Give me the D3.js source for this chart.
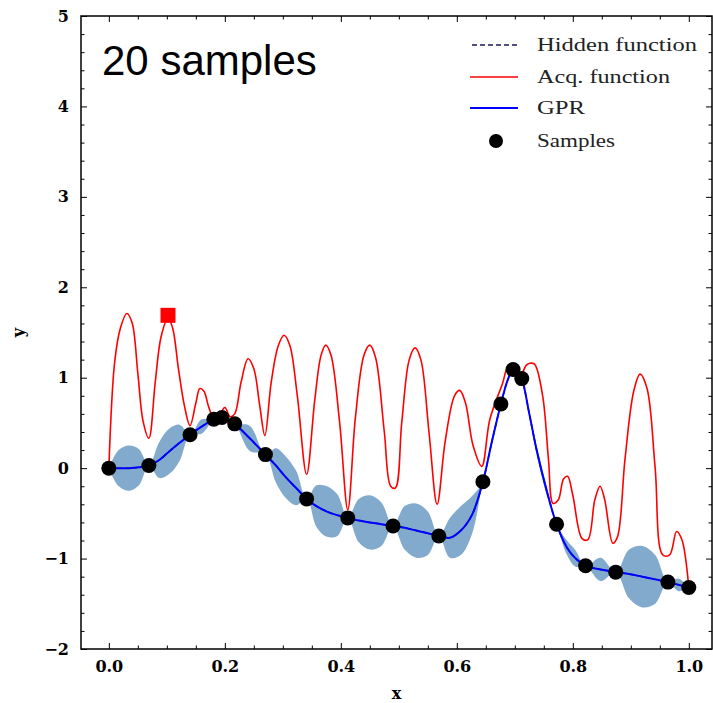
<!DOCTYPE html>
<html>
<head>
<meta charset="utf-8">
<script src="https://cdn.jsdelivr.net/npm/d3@7"></script>
<style>
  body { margin: 0; background: #fff; }
  .tick text { font-family: "DejaVu Serif", serif; font-weight: bold; font-size: 16px; }
  .tick line { stroke: #000; stroke-width: 1; }
</style>
</head>
<body>
<div id="chart"></div>
<script>
// samples taken so far
const sampleX = [0.000, 0.069, 0.140, 0.181, 0.195, 0.217, 0.270, 0.341, 0.412, 0.490,
                 0.569, 0.645, 0.676, 0.697, 0.712, 0.772, 0.822, 0.874, 0.964, 1.000];
const sampleY = [0.00, 0.03, 0.37, 0.54, 0.56, 0.49, 0.15, -0.34, -0.55, -0.64,
                 -0.75, -0.15, 0.71, 1.09, 0.99, -0.62, -1.08, -1.15, -1.26, -1.32];

// GPR mean and std on a grid
const gprX = [0.000, 0.017, 0.035, 0.052, 0.069, 0.087, 0.105, 0.122, 0.140, 0.160,
              0.181, 0.188, 0.195, 0.206, 0.217, 0.243, 0.270, 0.288, 0.305, 0.323,
              0.341, 0.358, 0.376, 0.394, 0.412, 0.431, 0.450, 0.470, 0.490, 0.510,
              0.530, 0.550, 0.569, 0.588, 0.607, 0.626, 0.645, 0.660, 0.676, 0.688,
              0.697, 0.705, 0.712, 0.725, 0.738, 0.755, 0.772, 0.790, 0.805, 0.822,
              0.848, 0.874, 0.897, 0.920, 0.942, 0.964, 0.982, 1.000];
const gprMean = [0.00, 0.00, 0.00, 0.01, 0.03, 0.09, 0.19, 0.28, 0.37, 0.46,
                 0.54, 0.555, 0.56, 0.53, 0.49, 0.33, 0.15, 0.03, -0.10, -0.22,
                 -0.34, -0.42, -0.48, -0.52, -0.55, -0.58, -0.60, -0.62, -0.64, -0.66,
                 -0.69, -0.72, -0.75, -0.77, -0.69, -0.52, -0.15, 0.28, 0.71, 0.98,
                 1.09, 1.06, 0.99, 0.60, 0.19, -0.25, -0.62, -0.88, -1.00, -1.08,
                 -1.12, -1.15, -1.17, -1.20, -1.23, -1.26, -1.29, -1.32];
const gprStd = [0, 0.20, 0.25, 0.20, 0, 0.20, 0.25, 0.20, 0, 0.08,
                0, 0.01, 0, 0.03, 0, 0.14, 0, 0.19, 0.23, 0.19,
                0, 0.23, 0.28, 0.23, 0, 0.24, 0.30, 0.24, 0, 0.24,
                0.30, 0.24, 0, 0.22, 0.27, 0.21, 0, 0.04, 0, 0.01,
                0, 0.01, 0, 0.03, 0.05, 0.05, 0, 0.08, 0.09, 0,
                0.13, 0, 0.27, 0.34, 0.27, 0, 0.07, 0];

// acquisition function
const acqX = [0.000, 0.010, 0.020, 0.031, 0.040, 0.050, 0.059, 0.069, 0.080, 0.090,
              0.102, 0.110, 0.120, 0.130, 0.140, 0.150, 0.157, 0.164, 0.172, 0.181,
              0.190, 0.200, 0.209, 0.217, 0.228, 0.240, 0.250, 0.260, 0.269, 0.280,
              0.292, 0.302, 0.312, 0.325, 0.341, 0.355, 0.366, 0.374, 0.383, 0.398,
              0.412, 0.425, 0.440, 0.450, 0.460, 0.475, 0.486, 0.494, 0.505, 0.518,
              0.528, 0.538, 0.552, 0.566, 0.580, 0.596, 0.605, 0.615, 0.628, 0.643,
              0.657, 0.679, 0.688, 0.699, 0.709, 0.720, 0.726, 0.734, 0.748, 0.758,
              0.766, 0.775, 0.784, 0.791, 0.800, 0.816, 0.826, 0.838, 0.847, 0.855,
              0.869, 0.877, 0.890, 0.905, 0.916, 0.928, 0.942, 0.955, 0.967, 0.979,
              0.988, 1.000];
const acqY = [0.00, 1.17, 1.55, 1.71, 1.61, 1.05, 0.52, 0.33, 0.95, 1.45,
              1.66, 1.55, 1.10, 0.70, 0.47, 0.72, 0.88, 0.85, 0.68, 0.55,
              0.58, 0.67, 0.57, 0.60, 0.95, 1.21, 1.10, 0.70, 0.36, 0.95,
              1.35, 1.47, 1.36, 0.80, -0.07, 0.75, 1.25, 1.36, 1.25, 0.50,
              -0.46, 0.55, 1.25, 1.36, 1.22, 0.40, -0.20, -0.22, 0.50, 1.20,
              1.33, 1.20, 0.40, -0.40, 0.30, 0.80, 0.86, 0.72, 0.25, 0.02,
              0.54, 0.94, 1.11, 1.08, 1.02, 1.14, 1.16, 1.15, 0.80, 0.10,
              -0.39, -0.35, -0.12, -0.09, -0.30, -0.78, -0.79, -0.35, -0.20, -0.35,
              -0.83, -0.76, 0.10, 0.85, 1.04, 0.88, 0.00, -0.96, -0.96, -0.70,
              -0.79, -1.32];

// next point proposed (max of acquisition)
const nextX = [0.102], nextY = [1.69];

const xTicks = [0, 0.2, 0.4, 0.6, 0.8, 1.0];
const xMinor = [0.05, 0.1, 0.15, 0.25, 0.3, 0.35, 0.45, 0.5, 0.55, 0.65, 0.7, 0.75, 0.85, 0.9, 0.95];
const yTicks = [-2, -1, 0, 1, 2, 3, 4, 5];
const yMinor = [-1.8, -1.6, -1.4, -1.2, -0.8, -0.6, -0.4, -0.2, 0.2, 0.4, 0.6, 0.8,
                1.2, 1.4, 1.6, 1.8, 2.2, 2.4, 2.6, 2.8, 3.2, 3.4, 3.6, 3.8, 4.2, 4.4, 4.6, 4.8];

const legendItems = ["Hidden function", "Acq. function", "GPR", "Samples"];

(() => {
  const width = 713, height = 703;
  const left = 81, right = 712, top = 16, bottom = 649;

  const svg = d3.select("#chart")
    .append("svg")
    .attr("width", width)
    .attr("height", height);

  const x = d3.scaleLinear().domain([-0.048, 1.04]).range([left, right]);
  const y = d3.scaleLinear().domain([-2, 5]).range([bottom, top]);

  const plot = svg.append("g");
  plot.append("clipPath").attr("id", "clip")
    .append("rect")
    .attr("x", left).attr("y", top)
    .attr("width", right - left).attr("height", bottom - top);
  const inner = plot.append("g").attr("clip-path", "url(#clip)");

  const gpr = gprX.map((d, i) => ({x: d, m: gprMean[i], s: gprStd[i]}));

  // uncertainty band
  inner.append("path")
    .datum(gpr)
    .attr("d", d3.area()
      .x(d => x(d.x))
      .y0(d => y(d.m - d.s))
      .y1(d => y(d.m + d.s))
      .curve(d3.curveCatmullRom))
    .attr("fill", "#4682b4")
    .attr("fill-opacity", 0.68);

  // hidden function (sits under the GPR mean)
  inner.append("path")
    .datum(gpr)
    .attr("d", d3.line().x(d => x(d.x)).y(d => y(d.m)).curve(d3.curveCatmullRom))
    .attr("fill", "none")
    .attr("stroke", "#1a1a5e")
    .attr("stroke-width", 1.5)
    .attr("stroke-dasharray", "5,3");

  // acquisition function
  inner.append("path")
    .datum(acqX.map((d, i) => [d, acqY[i]]))
    .attr("d", d3.line().x(d => x(d[0])).y(d => y(d[1])).curve(d3.curveCatmullRom))
    .attr("fill", "none")
    .attr("stroke", "#ff0000")
    .attr("stroke-width", 1.6);

  // GPR mean
  inner.append("path")
    .datum(gpr)
    .attr("d", d3.line().x(d => x(d.x)).y(d => y(d.m)).curve(d3.curveCatmullRom))
    .attr("fill", "none")
    .attr("stroke", "#0000ff")
    .attr("stroke-width", 2);

  // samples
  inner.selectAll("circle.sample")
    .data(sampleX.map((d, i) => [d, sampleY[i]]))
    .enter().append("circle")
    .attr("class", "sample")
    .attr("cx", d => x(d[0]))
    .attr("cy", d => y(d[1]))
    .attr("r", 7.5)
    .attr("fill", "#000");

  // next point marker
  inner.selectAll("rect.next")
    .data(nextX.map((d, i) => [d, nextY[i]]))
    .enter().append("rect")
    .attr("class", "next")
    .attr("x", d => x(d[0]) - 7.5)
    .attr("y", d => y(d[1]) - 7.5)
    .attr("width", 15)
    .attr("height", 15)
    .attr("fill", "#ff0000");

  // axes, ticks pointing inwards on all four sides
  const addAxis = (axis, tr, values, size, labels) => {
    const g = svg.append("g").attr("transform", tr)
      .call(axis.tickValues(values).tickSize(-size).tickPadding(12)
        .tickFormat(labels ? (d => d3.format(labels)(d)) : ""));
    g.select(".domain").remove();
    return g;
  };
  addAxis(d3.axisBottom(x), `translate(0,${bottom})`, xTicks, 6, ".1f");
  addAxis(d3.axisBottom(x), `translate(0,${bottom})`, xMinor, 3.5, null);
  addAxis(d3.axisTop(x), `translate(0,${top})`, xTicks, 6, null);
  addAxis(d3.axisTop(x), `translate(0,${top})`, xMinor, 3.5, null);
  addAxis(d3.axisLeft(y), `translate(${left},0)`, yTicks, 6, "d");
  addAxis(d3.axisLeft(y), `translate(${left},0)`, yMinor, 3.5, null);
  addAxis(d3.axisRight(y), `translate(${right},0)`, yTicks, 6, null);
  addAxis(d3.axisRight(y), `translate(${right},0)`, yMinor, 3.5, null);

  // frame
  svg.append("rect")
    .attr("x", left).attr("y", top)
    .attr("width", right - left).attr("height", bottom - top)
    .attr("fill", "none")
    .attr("stroke", "#000")
    .attr("stroke-width", 1.5);

  // axis labels
  svg.append("text")
    .attr("x", (left + right) / 2).attr("y", 699)
    .attr("text-anchor", "middle")
    .style("font-family", "DejaVu Serif, serif")
    .style("font-weight", "bold")
    .style("font-size", "16px")
    .text("x");
  svg.append("text")
    .attr("transform", `translate(24,${(top + bottom) / 2}) rotate(-90)`)
    .attr("text-anchor", "middle")
    .style("font-family", "DejaVu Serif, serif")
    .style("font-weight", "bold")
    .style("font-size", "16px")
    .text("y");

  // title inside the plot
  svg.append("text")
    .attr("x", 102).attr("y", 75)
    .style("font-family", "Liberation Sans, Arial, sans-serif")
    .style("font-size", "42px")
    .text("20 samples");

  // legend
  const legend = svg.append("g");
  const rowY = [45, 77, 108, 141];
  const textLen = [160, 133, 48, 78];
  legend.selectAll("text")
    .data(legendItems)
    .enter().append("text")
    .attr("x", 537)
    .attr("y", (d, i) => rowY[i] + 6)
    .attr("textLength", (d, i) => textLen[i])
    .attr("lengthAdjust", "spacingAndGlyphs")
    .style("font-family", "Liberation Serif, serif")
    .style("font-size", "18px")
    .style("fill", "#222")
    .text(d => d);
  legend.append("line")
    .attr("x1", 472).attr("x2", 518).attr("y1", rowY[0]).attr("y2", rowY[0])
    .attr("stroke", "#1a1a5e").attr("stroke-width", 1.5).attr("stroke-dasharray", "5,3");
  legend.append("line")
    .attr("x1", 470).attr("x2", 518).attr("y1", rowY[1]).attr("y2", rowY[1])
    .attr("stroke", "#ff0000").attr("stroke-width", 1.6);
  legend.append("line")
    .attr("x1", 470).attr("x2", 518).attr("y1", rowY[2]).attr("y2", rowY[2])
    .attr("stroke", "#0000ff").attr("stroke-width", 2);
  legend.append("circle")
    .attr("cx", 496).attr("cy", rowY[3]).attr("r", 7)
    .attr("fill", "#000");
})();
</script>
</body>
</html>
